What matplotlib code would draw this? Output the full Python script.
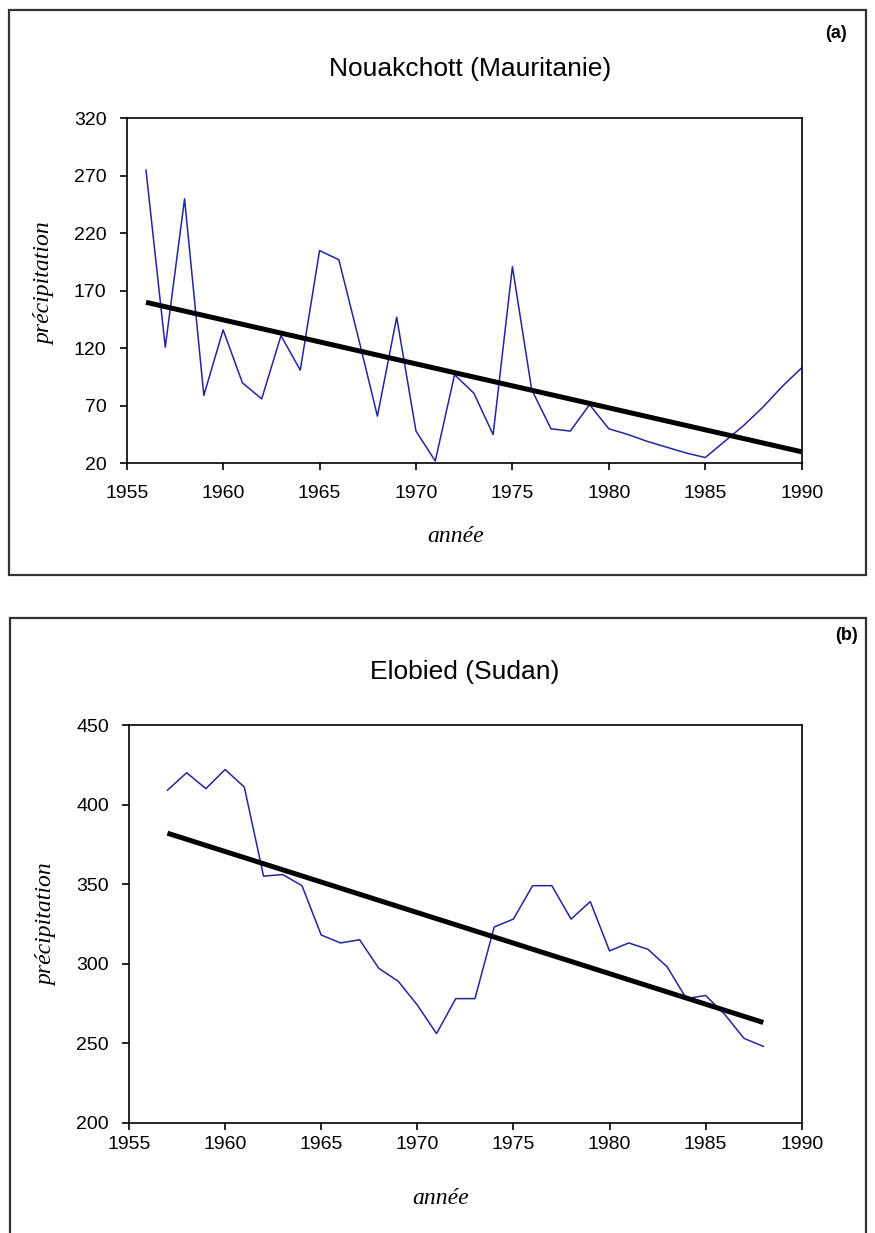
import matplotlib
matplotlib.use("Agg")
import matplotlib.pyplot as plt
from matplotlib.patches import Rectangle

# ---------------- data ----------------
# (a) Nouakchott (Mauritanie)
years_a = [1956, 1957, 1958, 1959, 1960, 1961, 1962, 1963, 1964, 1965, 1966, 1967,
           1968, 1969, 1970, 1971, 1972, 1973, 1974, 1975, 1976, 1977, 1978, 1979,
           1980, 1981, 1982, 1983, 1984, 1985, 1986, 1987, 1988, 1989, 1990]
precip_a = [275, 121, 250, 79, 136, 90, 76, 131, 101, 205, 197, 130,
            61, 147, 48, 22, 97, 81, 45, 191, 84, 50, 48, 71,
            50, 45, 39, 34, 29, 25, 39, 53, 69, 87, 103]
trend_years_a = [1956, 1990]
trend_vals_a = [160, 30]

# (b) Elobied (Sudan)
years_b = [1957, 1958, 1959, 1960, 1961, 1962, 1963, 1964, 1965, 1966, 1967, 1968,
           1969, 1970, 1971, 1972, 1973, 1974, 1975, 1976, 1977, 1978, 1979, 1980,
           1981, 1982, 1983, 1984, 1985, 1986, 1987, 1988]
precip_b = [409, 420, 410, 422, 411, 355, 356, 349, 318, 313, 315, 297,
            289, 274, 256, 278, 278, 323, 328, 349, 349, 328, 339, 308,
            313, 309, 298, 278, 280, 268, 253, 248]
trend_years_b = [1957, 1988]
trend_vals_b = [382, 263]

xticks = [1955, 1960, 1965, 1970, 1975, 1980, 1985, 1990]
yticks_a = [20, 70, 120, 170, 220, 270, 320]
yticks_b = [200, 250, 300, 350, 400, 450]

titles = ["Nouakchott (Mauritanie)", "Elobied (Sudan)"]
panel_tags = ["(a)", "(b)"]
xlabel = "année"
ylabel = "précipitation"

# ---------------- figure ----------------
W, H = 875, 1233
fig = plt.figure(figsize=(W / 100, H / 100), dpi=100)

def fx(px):
    return px / W

def fy(py):
    return 1 - py / H

line_blue = "#24249e"
sans = ["Liberation Sans", "DejaVu Sans"]
serif = ["Liberation Serif", "DejaVu Serif"]

# panel frames
fig.patches.append(Rectangle((fx(9), fy(575)), fx(866) - fx(9), fy(10) - fy(575),
                             transform=fig.transFigure, fill=False,
                             edgecolor="#333333", linewidth=1.6))
fig.patches.append(Rectangle((fx(10), fy(1240)), fx(866) - fx(10), fy(618) - fy(1240),
                             transform=fig.transFigure, fill=False,
                             edgecolor="#333333", linewidth=1.6, clip_on=False))

def setup(ax, yticks, xpad):
    ax.set_xlim(xticks[0], xticks[-1])
    ax.set_ylim(yticks[0], yticks[-1])
    ax.set_xticks(xticks)
    ax.set_yticks(yticks)
    ax.tick_params(direction="out", length=5, width=1.2, color="black",
                   labelsize=14)
    ax.tick_params(axis="x", pad=xpad)
    ax.tick_params(axis="y", pad=9.5)
    for lab in ax.get_xticklabels() + ax.get_yticklabels():
        lab.set_fontfamily(sans)
    for s in ax.spines.values():
        s.set_linewidth(1.2)
        s.set_color("black")

# axes (a)
ax1 = fig.add_axes([fx(126.7), fy(463.3), fx(801.7) - fx(126.7), fy(118.3) - fy(463.3)])
ax1.plot(years_a, precip_a, color=line_blue, linewidth=1.1)
ax1.plot(trend_years_a, trend_vals_a, color="black", linewidth=3.6, solid_capstyle="butt")
setup(ax1, yticks_a, 10.5)

# axes (b)
ax2 = fig.add_axes([fx(129), fy(1122.7), fx(801.7) - fx(129), fy(725) - fy(1122.7)])
ax2.plot(years_b, precip_b, color=line_blue, linewidth=1.1)
ax2.plot(trend_years_b, trend_vals_b, color="black", linewidth=3.6, solid_capstyle="butt")
setup(ax2, yticks_b, 4.5)

# texts
fig.text(fx(470), fy(69), titles[0], ha="center", va="center", fontsize=19, family=sans)
fig.text(fx(465), fy(672), titles[1], ha="center", va="center", fontsize=19, family=sans)
fig.text(fx(836), fy(33), panel_tags[0], ha="center", va="center", fontsize=13,
         fontweight="bold", family=sans)
fig.text(fx(846), fy(636), panel_tags[1], ha="center", va="center", fontsize=13,
         fontweight="bold", family=sans)

fig.text(fx(456), fy(536), xlabel, ha="center", va="center", fontsize=17,
         style="italic", family=serif)
fig.text(fx(441), fy(1198), xlabel, ha="center", va="center", fontsize=17,
         style="italic", family=serif)
fig.text(fx(45), fy(284), ylabel, ha="center", va="center", fontsize=17,
         style="italic", family=serif, rotation=90)
fig.text(fx(47), fy(925), ylabel, ha="center", va="center", fontsize=17,
         style="italic", family=serif, rotation=90)

fig.savefig("out.png", dpi=100, facecolor="white")
